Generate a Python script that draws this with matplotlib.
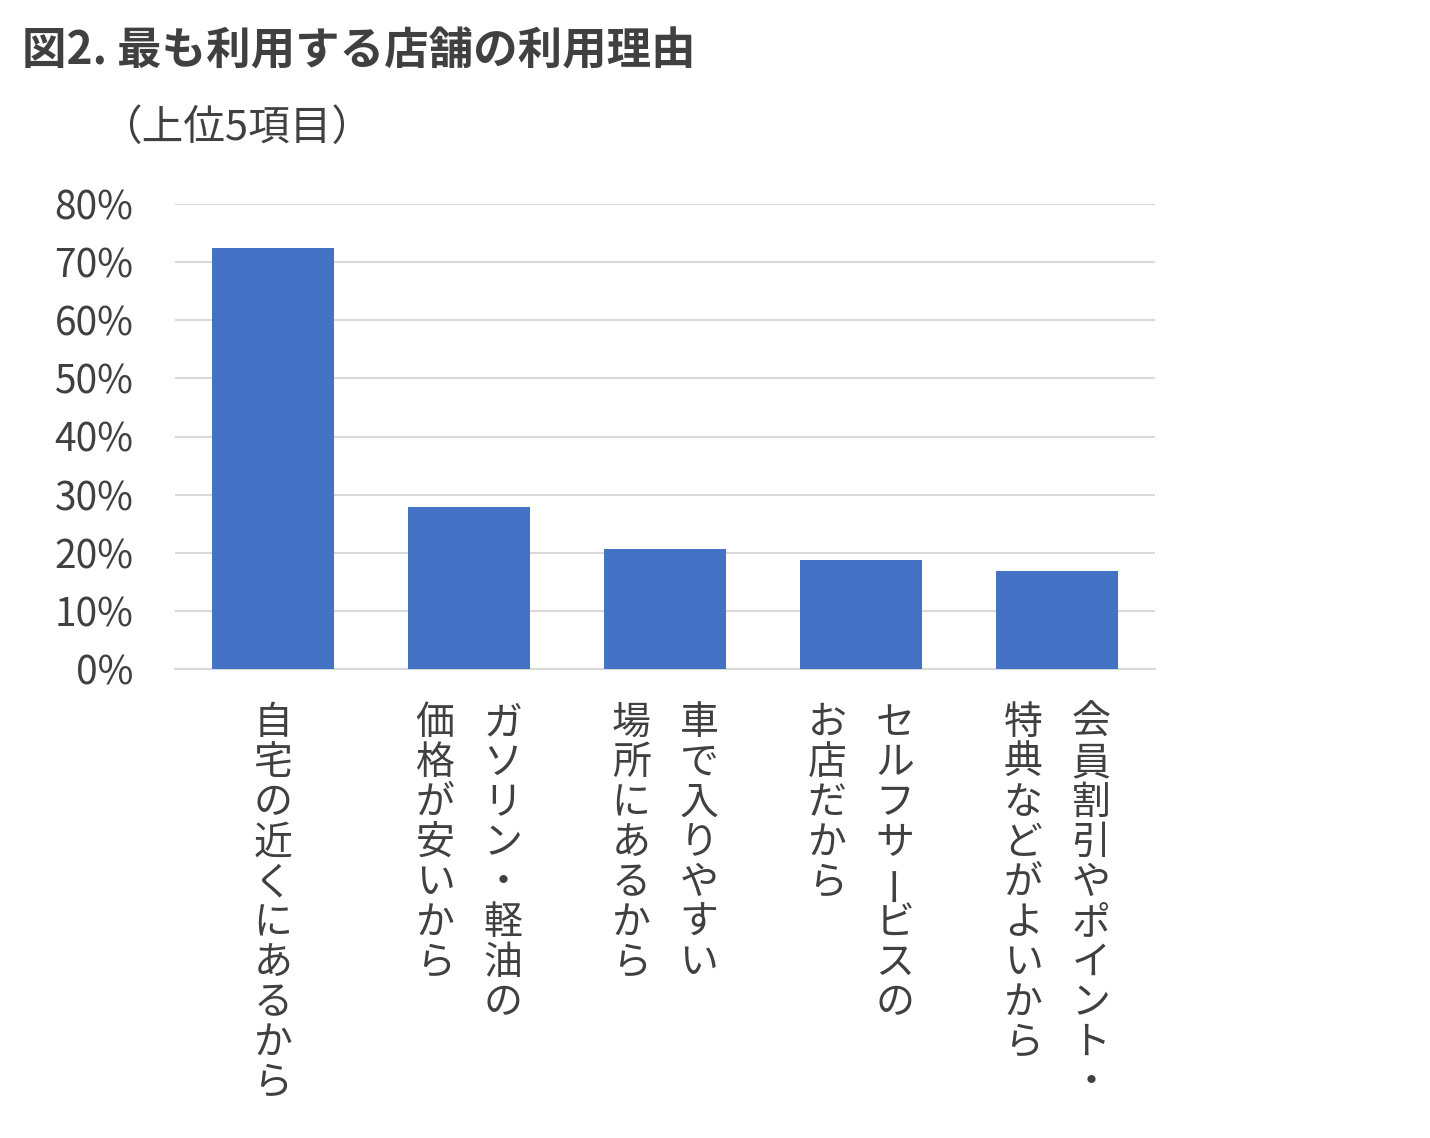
import matplotlib.pyplot as plt
import matplotlib.transforms as mtransforms

plt.rcParams['font.family'] = ['Noto Sans CJK JP', 'DejaVu Sans']

# data
reasons = [
    ["自宅の近くにあるから"],
    ["ガソリン・軽油の", "価格が安いから"],
    ["車で入りやすい", "場所にあるから"],
    ["セルフサービスの", "お店だから"],
    ["会員割引やポイント・", "特典などがよいから"],
]
values = [72.4, 27.9, 20.6, 18.8, 16.9]
yticks = [0, 10, 20, 30, 40, 50, 60, 70, 80]
ytick_labels = ["0%", "10%", "20%", "30%", "40%", "50%", "60%", "70%", "80%"]

text_col = '#404040'
bar_col = '#4472C4'
grid_col = '#D9D9D9'

W, H = 1430, 1138
fig = plt.figure(figsize=(W / 100, H / 100), dpi=100)
ax = fig.add_axes([175 / W, 1 - 669 / H, 980 / W, 465 / H])

x = range(len(values))
ax.bar(x, values, width=0.62, color=bar_col, zorder=3)
ax.set_xlim(-0.5, len(values) - 0.5)
ax.set_ylim(0, 80)
ax.set_yticks(yticks)
ax.set_yticklabels(ytick_labels, fontsize=28, color=text_col)
ax.set_xticks([])
ax.tick_params(axis='y', length=0, pad=30)
ax.grid(axis='y', color=grid_col, linewidth=1.5, zorder=0)
for s in ['top', 'right', 'left']:
    ax.spines[s].set_visible(False)
ax.spines['bottom'].set_color(grid_col)
ax.spines['bottom'].set_linewidth(1.5)

# vertical category labels (columns run right to left)
trans = mtransforms.blended_transform_factory(ax.transData, fig.transFigure)
col_gap = 0.173
pitch = 40
y0 = 723
for i, cols in enumerate(reasons):
    n = len(cols)
    for j, col in enumerate(cols):
        dx = ((n - 1) / 2 - j) * 2 * col_gap if n > 1 else 0
        for k, ch in enumerate(col):
            ypx = y0 + k * pitch
            rot = 90 if ch == 'ー' else 0
            fig.text(i + dx, 1 - ypx / H, ch, transform=trans, ha='center',
                     va='center', fontsize=28, color=text_col, rotation=rot)

fig.text(22 / W, 1 - 52 / H, "図2. 最も利用する店舗の利用理由", fontsize=32,
         fontweight='bold', color=text_col, ha='left', va='center')
fig.text(100 / W, 1 - 128 / H, "（上位5項目）", fontsize=30,
         color=text_col, ha='left', va='center')

fig.savefig('out.png', dpi=100, facecolor='white')
